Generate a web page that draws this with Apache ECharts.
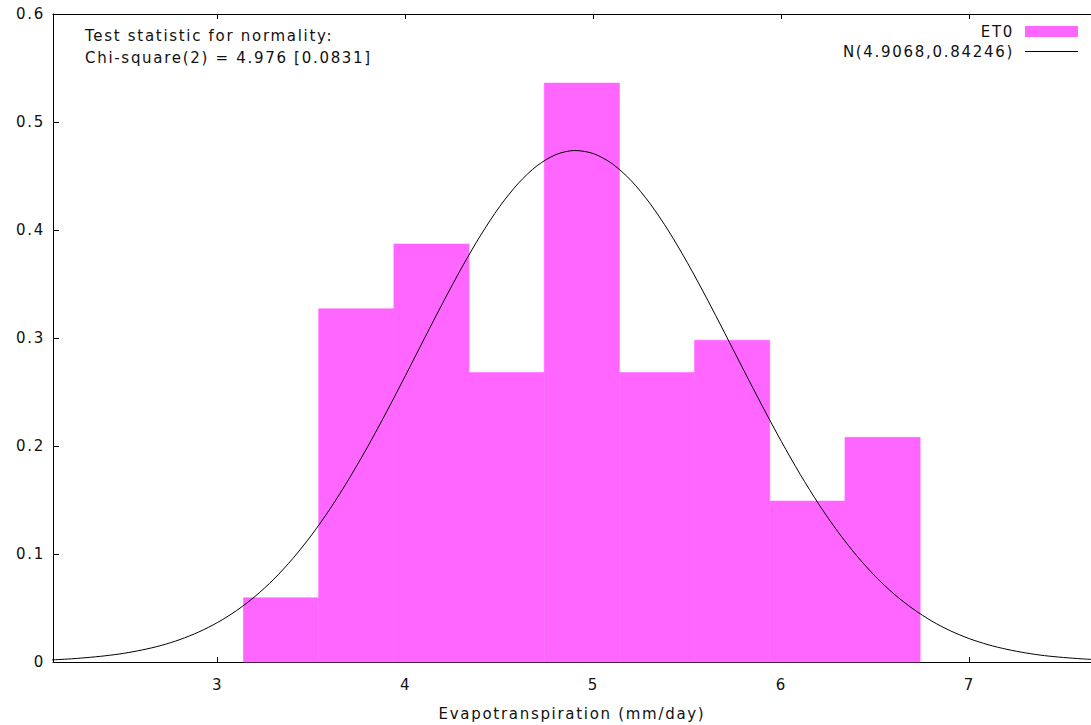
<!DOCTYPE html>
<html><head><meta charset="utf-8">
<script src="https://cdn.jsdelivr.net/npm/echarts@6/dist/echarts.min.js"></script>
<style>html,body{margin:0;padding:0;background:#fff}#c{width:1091px;height:725px;letter-spacing:1.7px}</style>
</head><body><div id="c"></div>
<script>
// ---- data ----
const seriesNames = ['ET0', 'N(4.9068,0.84246)'];
const noteLines = ['Test statistic for normality:', 'Chi-square(2) = 4.976 [0.0831]'];
const xName = 'Evapotranspiration (mm/day)';
const xTicks = [3, 4, 5, 6, 7];
const xMin = 2.1245, xMax = 7.647;
const binEdges = [3.138, 3.538, 3.938, 4.338, 4.738, 5.138, 5.538, 5.938, 6.338, 6.738];
const density = [0.0595, 0.327, 0.387, 0.268, 0.536, 0.268, 0.298, 0.149, 0.208];
const curveX = [2.1,2.2,2.3,2.4,2.5,2.6,2.7,2.8,2.9,3.0,3.1,3.2,3.3,3.4,3.5,3.6,3.7,3.8,3.9,4.0,
  4.1,4.2,4.3,4.4,4.5,4.6,4.7,4.8,4.9,5.0,5.1,5.2,5.3,5.4,5.5,5.6,5.7,5.8,5.9,6.0,
  6.1,6.2,6.3,6.4,6.5,6.6,6.7,6.8,6.9,7.0,7.1,7.2,7.3,7.4,7.5,7.6,7.7];
const curveY = [0.0018,0.0027,0.0040,0.0057,0.0080,0.0112,0.0153,0.0208,0.0278,0.0366,0.0475,0.0608,0.0768,0.0957,0.1175,0.1422,0.1698,0.1998,0.2319,0.2654,
  0.2994,0.3331,0.3654,0.3952,0.4215,0.4432,0.4595,0.4698,0.4736,0.4707,0.4613,0.4458,0.4247,0.3990,0.3696,0.3376,0.3040,0.2700,0.2364,0.2041,
  0.1737,0.1458,0.1207,0.0985,0.0792,0.0628,0.0492,0.0379,0.0288,0.0216,0.0160,0.0117,0.0084,0.0059,0.0042,0.0029,0.0019];

const font = 'DejaVu Sans';
const txt = '#111';
const barColor = '#ff66ff';
const histData = density.map((d, i) => [binEdges[i], binEdges[i + 1], d]);
const curveData = curveX.map((x, i) => [x, curveY[i]]);

const chart = echarts.init(document.getElementById('c'), null, {renderer: 'svg'});
const axisLineStyle = {color: '#000', width: 1};
chart.setOption({
  animation: false,
  backgroundColor: '#fff',
  textStyle: {fontFamily: font},
  title: {
    text: noteLines.join('\n'), left: 85, top: 25, padding: 0,
    textStyle: {fontSize: 15, fontWeight: 'normal', color: txt, lineHeight: 22, fontFamily: font}
  },
  legend: {
    orient: 'vertical', right: 13, top: 24, padding: 0, align: 'right',
    itemWidth: 53, itemHeight: 11, itemGap: 5,
    textStyle: {fontSize: 15, color: txt, fontFamily: font, padding: [0, 6, 0, 0]},
    data: [
      {name: seriesNames[0], icon: 'rect'},
      {name: seriesNames[1], icon: 'path://M0,0H100V2H0Z', itemStyle: {color: '#000'}}
    ]
  },
  grid: {left: 53, right: 0, top: 14, bottom: 63, outerBoundsMode: 'none'},
  xAxis: [{
    type: 'value', min: xMin, max: xMax, position: 'bottom',
    name: xName, nameLocation: 'middle', nameGap: 44,
    nameTextStyle: {fontSize: 15, color: txt, fontFamily: font},
    axisLine: {show: true, onZero: false, lineStyle: axisLineStyle},
    axisTick: {show: true, inside: true, length: 5, customValues: xTicks, lineStyle: axisLineStyle},
    axisLabel: {customValues: xTicks, margin: 15, fontSize: 15, color: txt, fontFamily: font},
    splitLine: {show: false}
  }, {
    type: 'value', min: xMin, max: xMax, position: 'top',
    axisLine: {show: true, onZero: false, lineStyle: axisLineStyle},
    axisTick: {show: true, inside: true, length: 5, customValues: xTicks, lineStyle: axisLineStyle},
    axisLabel: {show: false},
    splitLine: {show: false}
  }],
  yAxis: {
    type: 'value', min: 0, max: 0.6, interval: 0.1,
    axisLine: {show: true, onZero: false, lineStyle: axisLineStyle},
    axisTick: {show: true, inside: true, length: 6, lineStyle: axisLineStyle},
    axisLabel: {margin: 8, fontSize: 15, color: txt, fontFamily: font},
    splitLine: {show: false}
  },
  series: [{
    type: 'custom', name: seriesNames[0], xAxisIndex: 0, yAxisIndex: 0,
    itemStyle: {color: barColor},
    encode: {x: [0, 1], y: 2},
    data: histData,
    renderItem: function (params, api) {
      const p0 = api.coord([api.value(0), api.value(2)]);
      const p1 = api.coord([api.value(1), 0]);
      return {type: 'rect', shape: {x: p0[0], y: p0[1], width: p1[0] - p0[0], height: p1[1] - p0[1]},
        style: {fill: api.visual('color'), stroke: api.visual('color'), lineWidth: 0.6}};
    },
    z: 1
  }, {
    type: 'line', name: seriesNames[1], xAxisIndex: 0, yAxisIndex: 0,
    data: curveData, symbol: 'none', smooth: 0.3, clip: true,
    lineStyle: {color: '#000', width: 1}, itemStyle: {color: '#000'},
    z: 3
  }]
});
</script></body></html>
